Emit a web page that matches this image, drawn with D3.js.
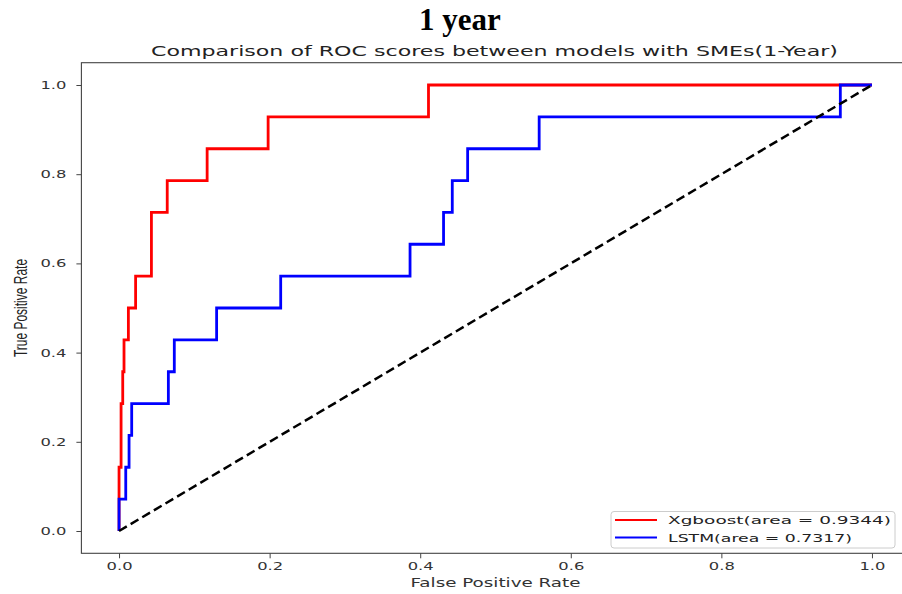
<!DOCTYPE html>
<html>
<head>
<meta charset="utf-8">
<script src="https://cdn.jsdelivr.net/npm/d3@7"></script>
<style>
  html, body { margin: 0; padding: 0; background: #fff; }
  svg { display: block; }
</style>
</head>
<body>
<svg id="chart" width="902" height="594"></svg>
<script>
// ---- Data ----
const xgbFpr = [0, 0, 0.0027, 0.0027, 0.0049, 0.0049, 0.0066, 0.0066, 0.0124, 0.0124, 0.022, 0.022, 0.043, 0.043, 0.064, 0.064, 0.117, 0.117, 0.198, 0.198, 0.411, 0.411, 1.0];
const xgbTpr = [0, 0.1429, 0.1429, 0.2857, 0.2857, 0.3571, 0.3571, 0.4286, 0.4286, 0.5, 0.5, 0.5714, 0.5714, 0.7143, 0.7143, 0.7857, 0.7857, 0.8571, 0.8571, 0.9286, 0.9286, 1.0, 1.0];
const lstmFpr = [0, 0, 0.0089, 0.0089, 0.0133, 0.0133, 0.0168, 0.0168, 0.0655, 0.0655, 0.0734, 0.0734, 0.1296, 0.1296, 0.2147, 0.2147, 0.3865, 0.3865, 0.431, 0.431, 0.4426, 0.4426, 0.463, 0.463, 0.558, 0.558, 0.958, 0.958, 1.0];
const lstmTpr = [0, 0.0714, 0.0714, 0.1429, 0.1429, 0.2143, 0.2143, 0.2857, 0.2857, 0.3571, 0.3571, 0.4286, 0.4286, 0.5, 0.5, 0.5714, 0.5714, 0.6429, 0.6429, 0.7143, 0.7143, 0.7857, 0.7857, 0.8571, 0.8571, 0.9286, 0.9286, 1.0, 1.0];
const chanceX = [0, 1];
const chanceY = [0, 1];
const xTicks = [0, 0.2, 0.4, 0.6, 0.8, 1.0];
const yTicks = [0, 0.2, 0.4, 0.6, 0.8, 1.0];
const seriesNames = ["Xgboost(area = 0.9344)", "LSTM(area = 0.7317)"];
const seriesColors = ["#ff0000", "#0000ff"];

(function () {
// ---- Layout ----
const svg = d3.select("#chart");
const pLeft = 81.4, pRight = 909.6, pTop = 62.7, pBottom = 553.3;
const x = d3.scaleLinear().domain([-0.05, 1.05]).range([pLeft, pRight]);
const y = d3.scaleLinear().domain([-0.05, 1.05]).range([pBottom, pTop]);
const axisColor = "#444";
const tickFont = "'DejaVu Sans', sans-serif";

// Top heading
svg.append("text")
  .attr("x", 460).attr("y", 30)
  .attr("text-anchor", "middle")
  .attr("font-family", "'Liberation Serif', 'Times New Roman', serif")
  .attr("font-weight", "bold")
  .attr("font-size", 31)
  .attr("fill", "#000")
  .text("1 year");

// Chart title
svg.append("text")
  .attr("x", 494.5).attr("y", 56)
  .attr("text-anchor", "middle")
  .attr("font-family", tickFont)
  .attr("font-size", 13.5)
  .attr("fill", "#222")
  .attr("textLength", 687)
  .attr("lengthAdjust", "spacingAndGlyphs")
  .text("Comparison of ROC scores between models with SMEs(1-Year)");

// Frame
svg.append("rect")
  .attr("x", pLeft).attr("y", pTop)
  .attr("width", pRight - pLeft).attr("height", pBottom - pTop)
  .attr("fill", "none").attr("stroke", axisColor).attr("stroke-width", 1.1);

// X axis
const xAxis = svg.append("g")
  .attr("transform", `translate(0,${pBottom})`)
  .call(d3.axisBottom(x).tickValues(xTicks).tickFormat(d3.format(".1f")).tickSize(5).tickPadding(4));
xAxis.select(".domain").remove();
xAxis.selectAll(".tick line").attr("stroke", axisColor);
xAxis.selectAll(".tick text")
  .attr("font-family", tickFont).attr("font-size", 11).attr("fill", "#333")
  .attr("textLength", 26).attr("lengthAdjust", "spacingAndGlyphs");

// Y axis
const yAxis = svg.append("g")
  .attr("transform", `translate(${pLeft},0)`)
  .call(d3.axisLeft(y).tickValues(yTicks).tickFormat(d3.format(".1f")).tickSize(5).tickPadding(10));
yAxis.select(".domain").remove();
yAxis.selectAll(".tick line").attr("stroke", axisColor);
yAxis.selectAll(".tick text")
  .attr("font-family", tickFont).attr("font-size", 11).attr("fill", "#333")
  .attr("textLength", 26).attr("lengthAdjust", "spacingAndGlyphs");

// Axis labels
svg.append("text")
  .attr("x", 495.5).attr("y", 586.5)
  .attr("text-anchor", "middle")
  .attr("font-family", tickFont).attr("font-size", 11.5).attr("fill", "#333")
  .attr("textLength", 170).attr("lengthAdjust", "spacingAndGlyphs")
  .text("False Positive Rate");

svg.append("text")
  .attr("transform", "translate(26.5,308) scale(1.5,1) rotate(-90)")
  .attr("text-anchor", "middle")
  .attr("font-family", "'Liberation Sans', Arial, sans-serif")
  .attr("font-size", 12).attr("fill", "#222")
  .text("True Positive Rate");

// Curves
const line = d3.line().x(d => x(d[0])).y(d => y(d[1]));
const xgbPts = xgbFpr.map((f, i) => [f, xgbTpr[i]]);
const lstmPts = lstmFpr.map((f, i) => [f, lstmTpr[i]]);
const chancePts = chanceX.map((f, i) => [f, chanceY[i]]);

svg.append("path").datum(xgbPts)
  .attr("d", line).attr("fill", "none")
  .attr("stroke", seriesColors[0]).attr("stroke-width", 2.8).attr("stroke-linejoin", "miter");
svg.append("path").datum(lstmPts)
  .attr("d", line).attr("fill", "none")
  .attr("stroke", seriesColors[1]).attr("stroke-width", 2.8).attr("stroke-linejoin", "miter");
svg.append("path").datum(chancePts)
  .attr("d", line).attr("fill", "none")
  .attr("stroke", "#000").attr("stroke-width", 2.5).attr("stroke-dasharray", "9,4.5");

// Legend
const lg = svg.append("g");
lg.append("rect")
  .attr("x", 611).attr("y", 511.5).attr("width", 284).attr("height", 36.5)
  .attr("rx", 3).attr("fill", "#fff").attr("fill-opacity", 0.85)
  .attr("stroke", "#ccc").attr("stroke-width", 1);
const rowsY = [520, 537.5];
const textLens = [223, 184];
seriesNames.forEach((name, i) => {
  lg.append("line")
    .attr("x1", 615).attr("x2", 657).attr("y1", rowsY[i]).attr("y2", rowsY[i])
    .attr("stroke", seriesColors[i]).attr("stroke-width", 2.2);
  lg.append("text")
    .attr("x", 668).attr("y", rowsY[i] + 4)
    .attr("font-family", tickFont).attr("font-size", 11).attr("fill", "#222")
    .attr("textLength", textLens[i]).attr("lengthAdjust", "spacingAndGlyphs")
    .text(name);
});
})();
</script>
</body>
</html>
